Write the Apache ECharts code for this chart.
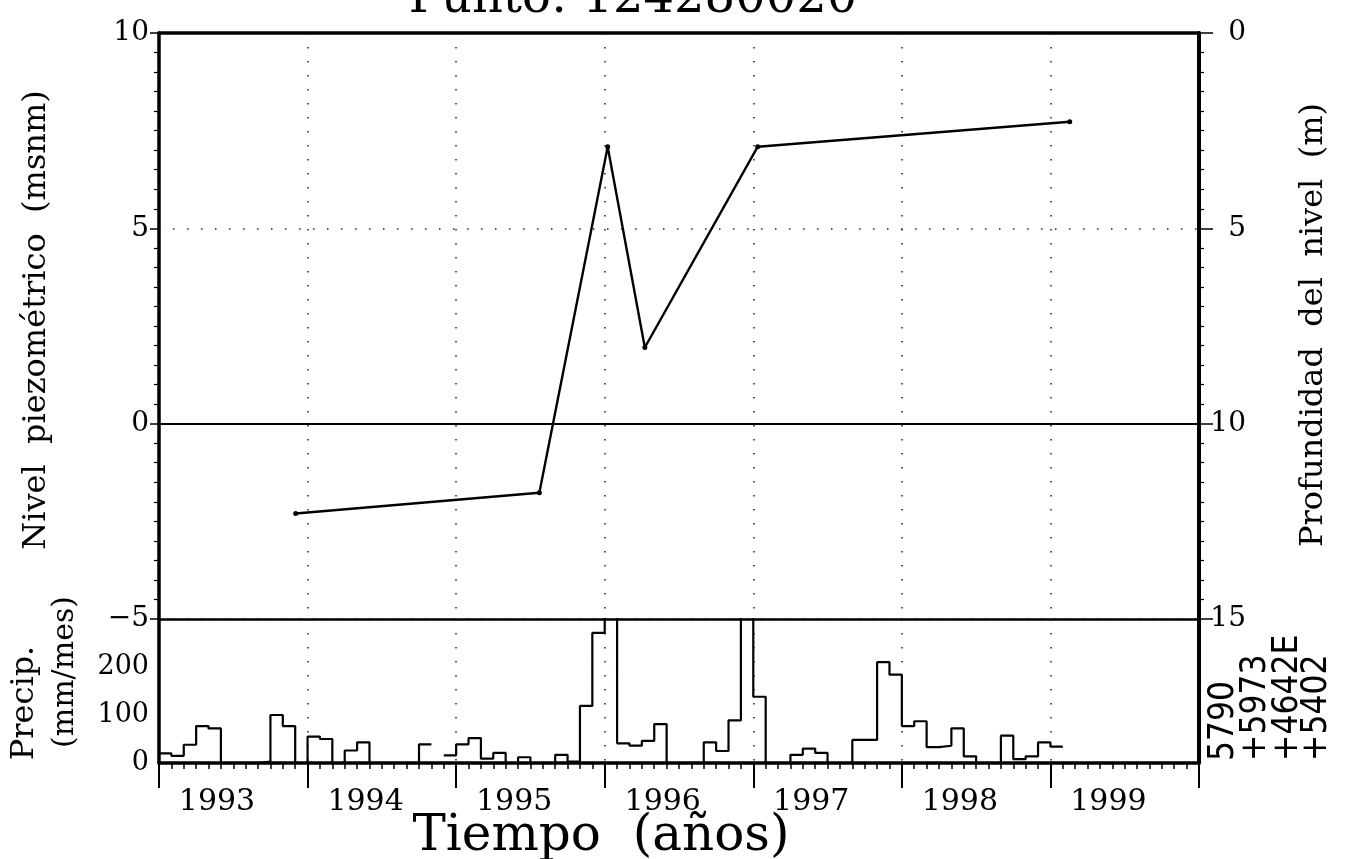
<!DOCTYPE html>
<html>
<head>
<meta charset="utf-8">
<script src="https://cdn.jsdelivr.net/npm/echarts@6/dist/echarts.min.js"></script>
<style>
  html, body { margin: 0; padding: 0; background: #fff; }
  #chart { width: 1348px; height: 859px; }
</style>
</head>
<body>
<div id="chart"></div>
<script>
// Nivel piezométrico medido (fecha decimal, msnm)
const levelDates  = [1993.92, 1995.56, 1996.02, 1996.27, 1997.03, 1999.13];
const levelValues = [-2.30, -1.77, 7.09, 1.95, 7.09, 7.73];

// Precipitación mensual (mm/mes), enero a diciembre; null = sin dato
const precip1993 = [20, 15, 38, 77, 72, 0, 0, 0, 3, 100, 77, 0];
const precip1994 = [55, 50, 0, 26, 43, 0, 0, 0, 0, 39, null, 16];
const precip1995 = [39, 52, 9, 21, 0, 12, 0, 0, 17, 3, 119, 271];
const precip1996 = [340, 41, 36, 46, 81, 0, 0, 0, 43, 25, 89, 320];
const precip1997 = [138, 0, 0, 17, 30, 21, 0, 0, 48, 48, 210, 184];
const precip1998 = [77, 87, 33, 36, 72, 14, 0, 0, 57, 8, 14, 43];
const precip1999 = [34];

const firstYear = 1993;
const lastYear = 2000;
const precipYears = [precip1993, precip1994, precip1995, precip1996, precip1997, precip1998, precip1999];

// Histograma escalonado: cada mes ocupa su intervalo completo
const precipSteps = [];
precipYears.forEach((months, yi) => {
  months.forEach((v, mi) => {
    const t0 = firstYear + yi + mi / 12;
    const t1 = firstYear + yi + (mi + 1) / 12;
    if (v === null) {
      precipSteps.push([t0, null]);
    } else {
      precipSteps.push([t0, v], [t1, v]);
    }
  });
});

const ink = '#000';
const serif = '"DejaVu Serif", "Liberation Serif", serif';
const narrow = '"DejaVu Sans Condensed", "Liberation Sans Narrow", "DejaVu Sans", sans-serif';
const dotted = { type: [1.5, 12.5], color: '#222', width: 1.5 };

const chart = echarts.init(document.getElementById('chart'), null, { renderer: 'canvas' });

const option = {
  animation: false,
  backgroundColor: '#fff',
  grid: [
    { left: 159, top: 33, width: 1040, height: 586 },
    { left: 159, top: 619, width: 1040, height: 144 }
  ],
  xAxis: [
    {
      gridIndex: 0, type: 'value', min: firstYear, max: lastYear, interval: 1, position: 'bottom',
      axisLine: { onZero: false, lineStyle: { color: ink, width: 2.5 } },
      axisTick: { show: false }, axisLabel: { show: false },
      splitLine: { show: true, lineStyle: dotted }
    },
    {
      gridIndex: 0, type: 'value', min: firstYear, max: lastYear, interval: 1, position: 'top',
      axisLine: { onZero: false, lineStyle: { color: ink, width: 3.5 } },
      axisTick: { show: false }, axisLabel: { show: false }, splitLine: { show: false }
    },
    {
      gridIndex: 1, type: 'value', min: firstYear, max: lastYear, interval: 1, position: 'bottom',
      axisLine: { onZero: false, lineStyle: { color: ink, width: 3.5 } },
      axisTick: { show: true, length: 25, lineStyle: { color: ink, width: 2 } },
      minorTick: { show: true, splitNumber: 12, length: 6, lineStyle: { color: ink, width: 1.5 } },
      axisLabel: {
        color: ink, fontFamily: serif, fontSize: 30, margin: 24,
        align: 'center', padding: [0, 0, 0, 116],
        formatter: v => (v < lastYear ? String(v) : '')
      },
      splitLine: { show: true, lineStyle: dotted }
    }
  ],
  yAxis: [
    {
      gridIndex: 0, type: 'value', min: -5, max: 10, interval: 5, position: 'left',
      axisLine: { show: true, onZero: false, lineStyle: { color: ink, width: 3.5 } },
      axisTick: { show: true, length: 9, lineStyle: { color: ink, width: 1.5 } },
      minorTick: { show: true, splitNumber: 10, length: 5, lineStyle: { color: ink, width: 1.2 } },
      axisLabel: {
        color: ink, fontFamily: serif, fontSize: 28, margin: 10,
        padding: [0, 0, 7, 0],
        formatter: v => (v < 0 ? '\u2212' + Math.abs(v) : String(v))
      },
      splitLine: { show: true, lineStyle: dotted }
    },
    {
      gridIndex: 0, type: 'value', min: 0, max: 15, interval: 5, position: 'right', inverse: true,
      axisLine: { show: true, onZero: false, lineStyle: { color: ink, width: 4 } },
      axisTick: { show: true, length: 14, lineStyle: { color: ink, width: 1.5 } },
      minorTick: { show: true, splitNumber: 10, length: 5, lineStyle: { color: ink, width: 1.2 } },
      axisLabel: {
        color: ink, fontFamily: serif, fontSize: 28, margin: 47, align: 'right',
        padding: [0, 0, 12, 0]
      },
      splitLine: { show: false }
    },
    {
      gridIndex: 1, type: 'value', min: 0, max: 300, interval: 100, position: 'left',
      axisLine: { show: true, onZero: false, lineStyle: { color: ink, width: 3.5 } },
      axisTick: { show: false },
      axisLabel: {
        color: ink, fontFamily: serif, fontSize: 27, margin: 10,
        padding: [0, 0, 10, 0],
        formatter: v => (v >= 300 ? '' : String(v))
      },
      splitLine: { show: false }
    },
    {
      gridIndex: 1, type: 'value', min: 0, max: 300, interval: 100, position: 'right',
      axisLine: { show: true, onZero: false, lineStyle: { color: ink, width: 4 } },
      axisTick: { show: false }, axisLabel: { show: false }, splitLine: { show: false }
    }
  ],
  series: [
    {
      name: 'Nivel piezométrico', type: 'line', xAxisIndex: 0, yAxisIndex: 0,
      data: levelDates.map((d, i) => [d, levelValues[i]]),
      symbol: 'circle', symbolSize: 5, showSymbol: true,
      itemStyle: { color: ink },
      lineStyle: { color: ink, width: 2.4 },
      markLine: {
        silent: true, symbol: 'none', label: { show: false },
        lineStyle: { color: ink, width: 2, type: 'solid' },
        data: [{ yAxis: 0 }]
      },
      z: 5
    },
    {
      name: 'Precipitación', type: 'line', xAxisIndex: 2, yAxisIndex: 2,
      data: precipSteps, symbol: 'none', connectNulls: false, clip: true,
      lineStyle: { color: ink, width: 2.2 },
      z: 5
    }
  ],
  graphic: [
    {
      type: 'text', x: 633, y: 24,
      style: { text: 'Punto: 124280020', font: '48px ' + serif, fill: ink, align: 'center', verticalAlign: 'bottom' }
    },
    {
      type: 'text', x: 37, y: 320, rotation: Math.PI / 2,
      style: { text: 'Nivel  piezométrico  (msnm)', font: '32px ' + serif, fill: ink, align: 'center', verticalAlign: 'middle' }
    },
    {
      type: 'text', x: 1314, y: 325, rotation: Math.PI / 2,
      style: { text: 'Profundidad  del  nivel  (m)', font: '32px ' + serif, fill: ink, align: 'center', verticalAlign: 'middle' }
    },
    {
      type: 'text', x: 25, y: 703, rotation: Math.PI / 2,
      style: { text: 'Precip.', font: '32px ' + serif, fill: ink, align: 'center', verticalAlign: 'middle' }
    },
    {
      type: 'text', x: 65, y: 672, rotation: Math.PI / 2,
      style: { text: '(mm/mes)', font: '30px ' + serif, fill: ink, align: 'center', verticalAlign: 'middle' }
    },
    {
      type: 'text', x: 601, y: 837,
      style: { text: 'Tiempo  (años)', font: '50px ' + serif, fill: ink, align: 'center', verticalAlign: 'middle' }
    },
    {
      type: 'text', x: 1224, y: 761, rotation: Math.PI / 2,
      style: { text: '5790', font: '35px ' + narrow, fill: ink, align: 'left', verticalAlign: 'middle' }
    },
    {
      type: 'text', x: 1256, y: 761, rotation: Math.PI / 2,
      style: { text: '+5973', font: '35px ' + narrow, fill: ink, align: 'left', verticalAlign: 'middle' }
    },
    {
      type: 'text', x: 1288, y: 761, rotation: Math.PI / 2,
      style: { text: '+4642E', font: '35px ' + narrow, fill: ink, align: 'left', verticalAlign: 'middle' }
    },
    {
      type: 'text', x: 1317, y: 761, rotation: Math.PI / 2,
      style: { text: '+5402', font: '35px ' + narrow, fill: ink, align: 'left', verticalAlign: 'middle' }
    }
  ]
};

chart.setOption(option);
</script>
</body>
</html>
